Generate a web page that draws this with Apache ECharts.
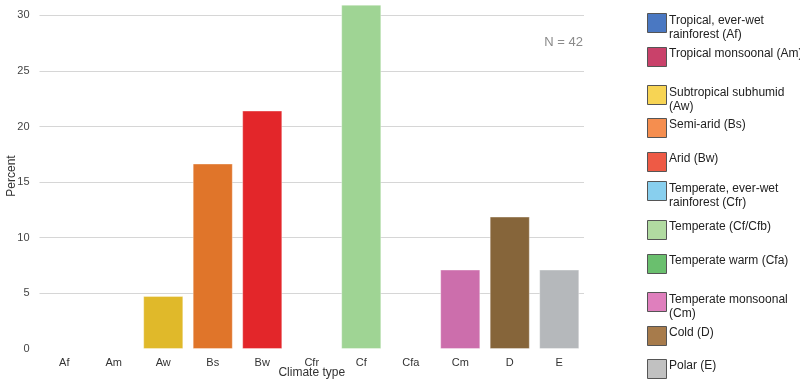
<!DOCTYPE html>
<html><head><meta charset="utf-8">
<script src="https://cdn.jsdelivr.net/npm/echarts@6/dist/echarts.min.js"></script>
<style>html,body{margin:0;padding:0;background:#fff}#c{width:800px;height:381px}</style>
</head><body><div id="c"></div>
<script>
const categories = ['Af','Am','Aw','Bs','Bw','Cfr','Cf','Cfa','Cm','D','E'];
const percents = [null, null, 4.76, 16.67, 21.43, null, 30.95, null, 7.14, 11.90, 7.14];
const barColors = ['#4a78c2','#c9416a','#e0b92a','#e0752a','#e3262a','#88cfee','#9fd494','#6abf6e','#cc6eac','#86653a','#b5b8bb'];
const legendLabels = ['Tropical, ever-wet\nrainforest (Af)','Tropical monsoonal (Am)','Subtropical subhumid\n(Aw)','Semi-arid (Bs)','Arid (Bw)','Temperate, ever-wet\nrainforest (Cfr)','Temperate (Cf/Cfb)','Temperate warm (Cfa)','Temperate monsoonal\n(Cm)','Cold (D)','Polar (E)'];
const legendColors = ['#4a78c2','#c9416a','#f7d454','#f58e4f','#ee5a45','#88cfee','#b1dba1','#6abf6e','#df7fbd','#a77b4b','#c1c1c1'];
const yTicks = [0,5,10,15,20,25,30];
const sampleNote = 'N = 42';

const chart = echarts.init(document.getElementById('c'), null, {renderer:'canvas'});
const legendTops = [13,47,85,118,152,181,220,254,292,326,359];
const graphics = [];
legendLabels.forEach((t,i)=>{
  graphics.push({type:'rect', left:647, top:legendTops[i], shape:{width:19,height:19},
    style:{fill:legendColors[i], stroke:'#555', lineWidth:1}});
  const multi = t.indexOf('\n')>=0;
  graphics.push({type:'text', left:669, top:legendTops[i]+(multi?1:0),
    style:{text:t, fill:'#222', font:'12px "Liberation Sans", Arial, sans-serif', lineHeight:14}});
});
graphics.push({type:'text', right:217, top:36, style:{text:sampleNote, fill:'#8a8a8a', font:'13px "Liberation Sans", Arial, sans-serif', textAlign:'right'}});

chart.setOption({
  animation:false,
  textStyle:{fontFamily:'"Liberation Sans", Arial, sans-serif'},
  grid:{left:39.5, right:216, top:3, bottom:32, containLabel:false, outerBoundsMode:'none'},
  xAxis:{type:'category', data:categories,
    axisLine:{show:false}, axisTick:{show:false},
    axisLabel:{color:'#333', fontSize:11, margin:8},
    name:'Climate type', nameLocation:'middle', nameGap:18, nameMoveOverlap:false,
    nameTextStyle:{color:'#333', fontSize:12}},
  yAxis:{type:'value', min:0, max:31.1, interval:5,
    axisLine:{show:false}, axisTick:{show:false},
    axisLabel:{color:'#444', fontSize:11, margin:10, showMaxLabel:false,
      formatter:v=>yTicks.includes(v)?String(v):''},
    splitLine:{show:true, showMinLine:false, showMaxLine:false, lineStyle:{color:'#d6d6d6', width:1.2}},
    name:'Percent', nameLocation:'middle', nameGap:22, nameRotate:90, nameMoveOverlap:false,
    nameTextStyle:{color:'#333', fontSize:12}},
  series:[{type:'bar', barWidth:'81%',
    data:percents.map((v,i)=>({value:v, itemStyle:{color:barColors[i], borderColor:'rgba(255,255,255,0.35)', borderWidth:1}}))}],
  graphic:graphics
});
</script></body></html>
